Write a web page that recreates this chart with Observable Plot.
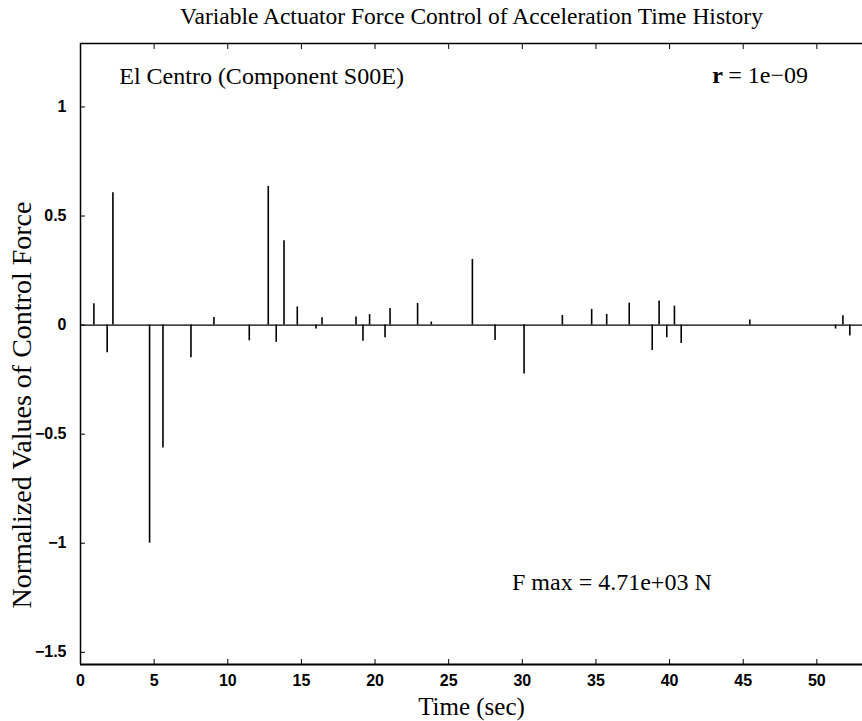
<!DOCTYPE html>
<html><head><meta charset="utf-8">
<script src="https://cdn.jsdelivr.net/npm/d3@7"></script>
<script src="https://cdn.jsdelivr.net/npm/@observablehq/plot@0.6"></script>
<style>body{margin:0;background:#fff;} #chart svg{display:block;background:#fff;}</style>
</head><body><div id="chart"></div>
<script>
// Spike times (sec) and normalized control-force values
const times  = [0.91, 1.81, 2.20, 4.69, 5.60, 7.50, 9.06, 11.46, 12.75, 13.29, 13.82, 14.72,
                15.99, 16.40, 18.71, 19.18, 19.63, 20.68, 21.02, 22.89, 23.82, 26.61, 28.15, 30.12,
                32.72, 34.71, 35.73, 37.26, 38.82, 39.29, 39.81, 40.33, 40.79, 45.45, 51.27, 51.77, 52.24];
const values = [0.098, -0.127, 0.607, -1.0, -0.563, -0.15, 0.035, -0.072, 0.636, -0.079, 0.387, 0.083,
                -0.018, 0.034, 0.037, -0.074, 0.048, -0.058, 0.076, 0.099, 0.014, 0.301, -0.071, -0.224,
                0.044, 0.072, 0.049, 0.101, -0.116, 0.111, -0.058, 0.087, -0.084, 0.023, -0.018, 0.043, -0.05];

const xTicks = [0, 5, 10, 15, 20, 25, 30, 35, 40, 45, 50];
const yTicks = [-1.5, -1, -0.5, 0, 0.5, 1];
const xDomain = [0, 53.1];
const yDomain = [-1.556, 1.291];

const titleText = "Variable Actuator Force Control of Acceleration Time History";
const xLabelText = "Time (sec)";
const yLabelText = "Normalized Values of Control Force";
const annoLabels = ["El Centro (Component S00E)", "F max = 4.71e+03 N"];
const annoX = [2.63, 29.3];
const annoY = [1.14, -1.18];
const rLabelX = [42.9];
const rLabelY = [1.145];

const spikes = times.map((t, i) => ({t, v: values[i]}));
const annos = annoLabels.map((s, i) => ({s, x: annoX[i], y: annoY[i]}));

const serif = "'Liberation Serif', 'Times New Roman', serif";
const sans = "'Liberation Sans', Arial, sans-serif";

const chart = Plot.plot({
  width: 862,
  height: 721,
  marginLeft: 80,
  marginRight: 0,
  marginTop: 43,
  marginBottom: 57,
  style: {background: "#fff", color: "#000"},
  x: {domain: xDomain, ticks: xTicks},
  y: {domain: yDomain, ticks: yTicks},
  marks: [
    // zero trace
    Plot.ruleY([0], {stroke: "#000", strokeWidth: 1.2}),
    // spikes
    Plot.ruleX(spikes, {x: "t", y1: 0, y2: "v", stroke: "#000", strokeWidth: 1.6}),
    // frame lines
    Plot.ruleY([yDomain[1]], {stroke: "#000", strokeWidth: 1.5}),
    Plot.ruleY([yDomain[0]], {stroke: "#000", strokeWidth: 2}),
    Plot.ruleX([xDomain[0]], {stroke: "#000", strokeWidth: 1.5}),
    // axes
    Plot.axisY(yTicks, {anchor: "left", tickSize: -5, tickPadding: 19, label: null,
      tickFormat: d => String(d).replace("-", "\u2212"),
      fontSize: 16, fontWeight: "bold", fontFamily: sans}),
    Plot.axisX(xTicks, {anchor: "bottom", tickSize: -5, tickPadding: 15, label: null,
      fontSize: 16, fontWeight: "bold", fontFamily: sans}),
    Plot.axisX(xTicks, {anchor: "top", tickSize: -5, label: null, tickFormat: () => ""}),
    // annotations
    Plot.text(annos, {x: "x", y: "y", text: "s", textAnchor: "start", lineAnchor: "middle",
      fontSize: 24, fontFamily: serif, fill: "#000"}),
    Plot.text(rLabelX, {x: d => d, y: () => rLabelY[0], text: () => "r", textAnchor: "start",
      lineAnchor: "middle", fontSize: 24, fontWeight: "bold", fontFamily: serif, fill: "#000"}),
    Plot.text(rLabelX, {x: d => d, y: () => rLabelY[0], text: () => "= 1e\u221209", textAnchor: "start",
      dx: 16, lineAnchor: "middle", fontSize: 24, fontFamily: serif, fill: "#000"}),
    // title & labels
    Plot.text([titleText], {frameAnchor: "top", textAnchor: "middle", lineAnchor: "middle", dy: -27,
      fontSize: 23.5, fontFamily: serif, fill: "#000"}),
    Plot.text([xLabelText], {frameAnchor: "bottom", textAnchor: "middle", lineAnchor: "middle", dy: 42,
      fontSize: 25, fontFamily: serif, fill: "#000"}),
    Plot.text([yLabelText], {frameAnchor: "left", textAnchor: "middle", lineAnchor: "middle", rotate: -90,
      dx: -58, dy: 51, fontSize: 28, fontFamily: serif, fill: "#000"})
  ]
});
document.getElementById("chart").append(chart);
</script>
</body></html>
